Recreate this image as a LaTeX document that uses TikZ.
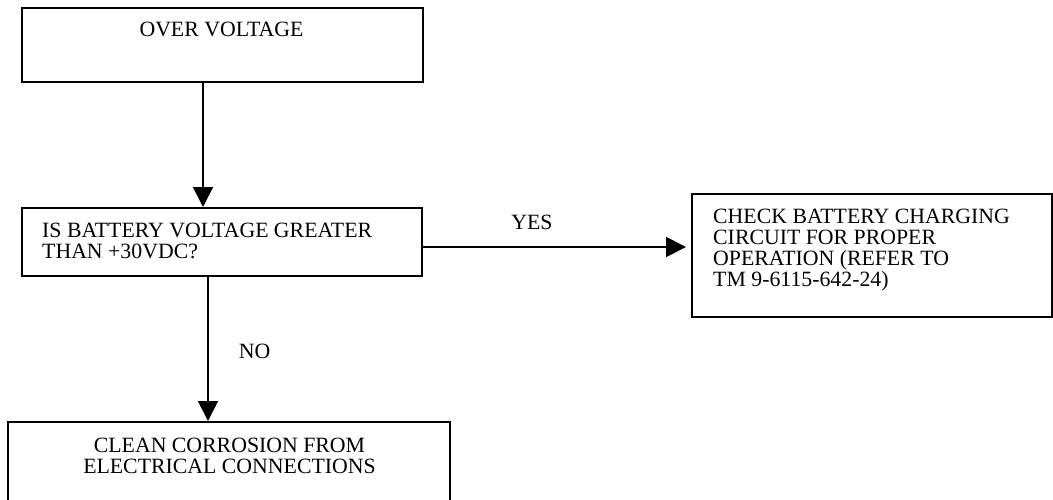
\documentclass[tikz,border=0pt]{standalone}
\usepackage{fontspec}
\setmainfont{Liberation Serif}
\usetikzlibrary{arrows.meta}
\tikzset{
  boxshape/.style={draw=black, line width=1.8pt, rectangle, inner sep=0pt, anchor=north west},
  txt/.style={inner sep=0pt, font=\fontsize{21.8}{21}\selectfont},
  arr/.style={line width=1.8pt, -{Triangle[length=20pt,width=20pt]}}
}
\begin{document}
\begin{tikzpicture}[x=1pt,y=-1pt]
\clip (0,0) rectangle (1053,499);
% boxes
\node[boxshape, minimum width=401pt, minimum height=74pt] (b1) at (21,7) {};
\node[boxshape, minimum width=400pt, minimum height=68pt] (b2) at (21,207) {};
\node[boxshape, minimum width=360pt, minimum height=123pt] (b3) at (691,193) {};
\node[boxshape, minimum width=442pt, minimum height=120pt] (b4) at (7,421) {};
% texts
\node[txt, anchor=base] (t1) at (221.5,36.7) {OVER VOLTAGE};
\node[txt, anchor=north west, align=left] (t2) at (42,223.3) {IS BATTERY VOLTAGE GREATER\\THAN +30VDC?};
\node[txt, anchor=north west, align=left] (t3) at (713,208.9) {CHECK BATTERY CHARGING\\CIRCUIT FOR PROPER\\OPERATION (REFER TO\\TM 9-6115-642-24)};
\node[txt, anchor=north, align=center] (t4) at (229.5,438) {CLEAN CORROSION FROM\\ELECTRICAL CONNECTIONS};
% guide coordinates
\coordinate (xa) at (203,0);
\coordinate (xb) at (208,0);
\coordinate (ya) at (0,247);
% connectors
\draw[arr] (b1.south -| xa) -- (b2.north -| xa);
\draw[arr, shorten >=5pt] (b2.east |- ya) -- (b3.west |- ya) node[txt, pos=0.407, anchor=base, yshift=18pt] (yes) {YES};
\draw[arr] (b2.south -| xb) -- (b4.north -| xb) node[txt, pos=0.568, anchor=base west, xshift=30pt] (no) {NO};
\end{tikzpicture}
\end{document}
